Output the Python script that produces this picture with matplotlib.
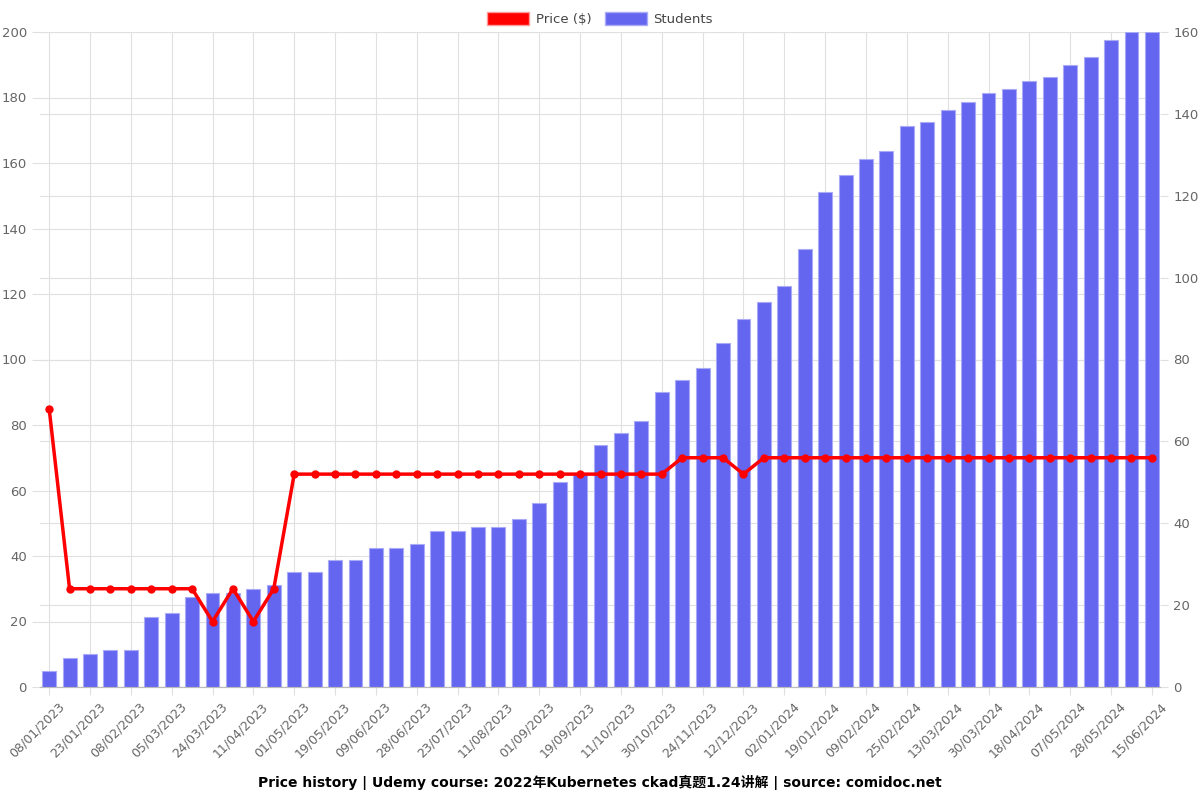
import numpy as np
import matplotlib.pyplot as plt
import matplotlib.transforms as mtransforms
from matplotlib.patches import Patch

plt.rcParams['font.family'] = ['DejaVu Sans', 'Noto Sans CJK SC']

tick_labels = ['08/01/2023', '23/01/2023', '08/02/2023', '05/03/2023', '24/03/2023',
               '11/04/2023', '01/05/2023', '19/05/2023', '09/06/2023', '28/06/2023',
               '23/07/2023', '11/08/2023', '01/09/2023', '19/09/2023', '11/10/2023',
               '30/10/2023', '24/11/2023', '12/12/2023', '02/01/2024', '19/01/2024',
               '09/02/2024', '25/02/2024', '13/03/2024', '30/03/2024', '18/04/2024',
               '07/05/2024', '28/05/2024', '15/06/2024']

price = [85, 30, 30, 30, 30, 30, 30, 30, 20, 30, 20, 30,
         65, 65, 65, 65, 65, 65, 65, 65, 65, 65, 65, 65, 65, 65, 65, 65, 65, 65, 65,
         70, 70, 70, 65,
         70, 70, 70, 70, 70, 70, 70, 70, 70, 70, 70, 70, 70, 70, 70, 70, 70, 70, 70, 70]

students = [4, 7, 8, 9, 9, 17, 18, 22, 23, 23, 24, 25, 28, 28, 31, 31, 34, 34,
            35, 38, 38, 39, 39, 41, 45, 50, 52, 59, 62, 65, 72, 75, 78, 84, 90, 94,
            98, 107, 121, 125, 129, 131, 137, 138, 141, 143, 145, 146, 148, 149,
            152, 154, 158, 160, 160]

x = np.arange(len(students))
grid_col = '#e0e0e0'
text_col = '#666666'
bar_col = '#6466f0'

fig = plt.figure(figsize=(12, 8), dpi=100)
pos = [0.0333, 0.14125, 0.9334, 0.81875]
ax = fig.add_axes(pos)
ax2 = ax.twinx()
ax3 = fig.add_axes(pos, sharex=ax, sharey=ax)

# bars on the right axis, price line on a top layer so grids stay behind bars
ax2.bar(x, students, width=0.68, color=bar_col, edgecolor='#a9abf7', linewidth=0.8)
ax3.plot(x, price, color='#ff0000', linewidth=2.5, marker='o', markersize=5, clip_on=False)

ax.set_zorder(0)
ax2.set_zorder(1)
ax3.set_zorder(2)
ax2.patch.set_visible(False)
ax3.patch.set_visible(False)
ax3.axis('off')

ax.set_xlim(-0.45, len(x) - 0.6)
ax.set_ylim(0, 200)
ax2.set_ylim(0, 160)
ax.set_yticks(np.arange(0, 201, 20))
ax2.set_yticks(np.arange(0, 161, 20))
ax.set_xticks(x[::2])
ax.set_xticklabels(tick_labels, rotation=45, ha='right', rotation_mode='anchor')

ax.grid(True, color=grid_col, linewidth=0.8)
ax2.grid(True, axis='y', color=grid_col, linewidth=0.8)
ax.set_axisbelow(True)
ax2.set_axisbelow(True)

for a in (ax, ax2):
    for side in ('top', 'left', 'right'):
        a.spines[side].set_visible(False)
    a.spines['bottom'].set_color('#bbbbbb')
    a.tick_params(colors=text_col, labelsize=9.5, length=6, width=0.8)
    a.tick_params(axis='both', color=grid_col)
ax.tick_params(axis='x', labelsize=9)

shift = mtransforms.ScaledTranslation(6 / 72, 0, fig.dpi_scale_trans)
for lbl in ax.get_xticklabels():
    lbl.set_transform(lbl.get_transform() + shift)

handles = [Patch(facecolor='#ff0000', edgecolor='#ff9999', label='Price ($)'),
           Patch(facecolor=bar_col, edgecolor='#a9abf7', label='Students')]
fig.legend(handles=handles, loc='upper center', bbox_to_anchor=(0.5, 1.0), ncol=2,
           frameon=False, fontsize=9.5, handlelength=3.2, handleheight=1.1,
           columnspacing=1.0, handletextpad=0.5, labelcolor='#444444')

fig.text(0.5, 0.022, 'Price history | Udemy course: 2022年Kubernetes ckad真题1.24讲解 | source: comidoc.net',
         ha='center', va='center', fontsize=10, fontweight='bold')

fig.savefig('out.png', dpi=100)
